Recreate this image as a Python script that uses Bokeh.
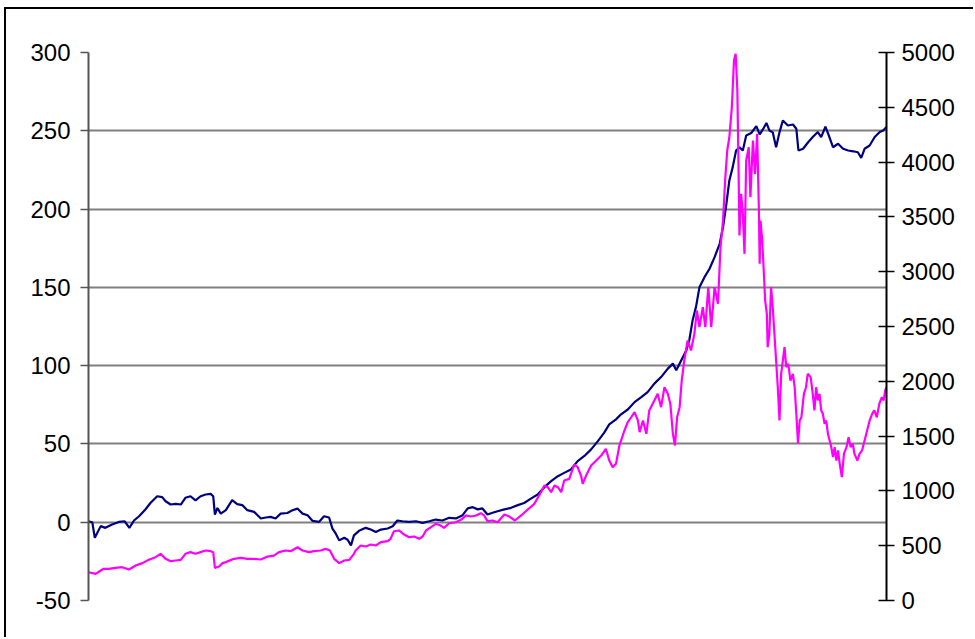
from bokeh.plotting import figure
from bokeh.models import Range1d, LinearAxis, FixedTicker
from bokeh.embed import file_html
from bokeh.resources import INLINE

# ---------------- data ----------------
left_ticks = [-50, 0, 50, 100, 150, 200, 250, 300]
right_ticks = [0, 500, 1000, 1500, 2000, 2500, 3000, 3500, 4000, 4500, 5000]

# navy series (left axis), x in decimal years
navy_x = [1984.83, 1984.92, 1984.98, 1985.04, 1985.12, 1985.23, 1985.39, 1985.55, 1985.69, 1985.80,
          1985.91, 1986.03, 1986.18, 1986.30, 1986.46, 1986.58, 1986.66, 1986.78, 1986.90, 1987.02,
          1987.13, 1987.25, 1987.37, 1987.49, 1987.61, 1987.73, 1987.79, 1987.83, 1987.89, 1987.97,
          1988.09, 1988.24, 1988.36, 1988.48, 1988.60, 1988.76, 1988.92, 1989.04, 1989.15, 1989.27,
          1989.39, 1989.55, 1989.67, 1989.79, 1989.91, 1990.03, 1990.15, 1990.30, 1990.42, 1990.54,
          1990.62, 1990.70, 1990.78, 1990.90, 1990.98, 1991.06, 1991.13, 1991.25, 1991.41, 1991.53,
          1991.65, 1991.77, 1991.93, 1992.05, 1992.16, 1992.28, 1992.44, 1992.60, 1992.76, 1992.92,
          1993.07, 1993.23, 1993.39, 1993.55, 1993.71, 1993.83, 1993.95, 1994.07, 1994.18, 1994.30,
          1994.42, 1994.54, 1994.70, 1994.86, 1995.02, 1995.17, 1995.33, 1995.49, 1995.65, 1995.81,
          1995.97, 1996.12, 1996.28, 1996.44, 1996.60, 1996.76, 1996.92, 1997.07, 1997.19, 1997.35,
          1997.47, 1997.63, 1997.79, 1997.95, 1998.10, 1998.26, 1998.42, 1998.58, 1998.70, 1998.78,
          1998.90, 1999.02, 1999.09, 1999.17, 1999.25, 1999.33, 1999.45, 1999.57, 1999.69, 1999.81,
          1999.89, 1999.97, 2000.04, 2000.12, 2000.20, 2000.28, 2000.36, 2000.44, 2000.56, 2000.68,
          2000.76, 2000.84, 2000.92, 2000.99, 2001.07, 2001.15, 2001.23, 2001.31, 2001.43, 2001.55,
          2001.63, 2001.68, 2001.79, 2001.91, 2002.02, 2002.14, 2002.22, 2002.32, 2002.40, 2002.50,
          2002.62, 2002.74, 2002.86, 2002.98, 2003.09, 2003.17, 2003.25, 2003.37, 2003.49, 2003.61,
          2003.69, 2003.77]
navy_y = [0.5, 0, -10, -6.8, -2.5, -3.6, -1.5, 0.2, 0.6, -3.6,
          1.1, 3.8, 8.1, 12.3, 16.6, 16, 13.4, 11.3, 11.7, 11.3,
          15.6, 16.6, 13.9, 16.6, 17.7, 18.1, 16.6, 4.9, 9.1, 5.5,
          7.7, 14.1, 11.6, 10.9, 7.7, 6.6, 2.4, 3, 3.4, 2.4,
          5.5, 5.9, 7.6, 8.7, 5.5, 4.4, 0.8, 0.2, 3.8, 3,
          -4.1, -7.3, -11.6, -9.9, -11.2, -14.8, -8.4, -5.5, -3.6, -4.7,
          -6.2, -4.7, -4, -2.6, 1.1, 0.6, 0.2, 0.6, -0.4, 0.6,
          1.7, 1.1, 2.8, 2.4, 4.5, 8.8, 9.6, 8.2, 8.8, 4.9,
          6, 7, 8.2, 9.2, 10.9, 12.3, 15.1, 17.7, 22.4, 26.2,
          29.4, 31.5, 33.7, 39, 42.3, 46.5, 51.8, 57.2, 62.5, 65.7,
          68.9, 72, 76.7, 79.9, 83.1, 88.5, 92.7, 98.1, 101.3, 97.1,
          103.5, 109.9, 116.4, 129.2, 137.7, 150, 156.5, 161.9, 169.3, 177.8,
          188.4, 203.4, 218.3, 226.8, 237.4, 239.5, 237.4, 247, 248.6, 253,
          247.7, 251, 255, 250.2, 249, 239.5, 249, 256.6, 253.4, 254,
          251.3, 237.4, 238.5, 242.7, 246, 249.2, 246, 252.7, 247, 239.5,
          241.7, 238.5, 237.4, 236.9, 236.3, 232.7, 238.5, 240.6, 246, 249.2,
          250.2, 252.4]

# magenta series (right axis)
mag_x = [1984.83, 1985.00, 1985.12, 1985.19, 1985.31, 1985.47, 1985.63, 1985.79, 1985.95, 1986.11,
         1986.26, 1986.42, 1986.54, 1986.66, 1986.78, 1986.90, 1987.02, 1987.13, 1987.25, 1987.37,
         1987.49, 1987.61, 1987.73, 1987.79, 1987.83, 1987.93, 1988.01, 1988.09, 1988.28, 1988.44,
         1988.60, 1988.76, 1988.92, 1989.08, 1989.23, 1989.35, 1989.51, 1989.63, 1989.79, 1989.91,
         1990.06, 1990.18, 1990.34, 1990.46, 1990.56, 1990.66, 1990.78, 1990.90, 1991.02, 1991.13,
         1991.17, 1991.29, 1991.41, 1991.53, 1991.65, 1991.77, 1991.93, 1992.00, 1992.08, 1992.20,
         1992.32, 1992.44, 1992.56, 1992.68, 1992.76, 1992.84, 1992.96, 1993.07, 1993.19, 1993.27,
         1993.39, 1993.55, 1993.67, 1993.79, 1993.91, 1994.03, 1994.14, 1994.22, 1994.30, 1994.42,
         1994.54, 1994.70, 1994.82, 1994.95, 1995.10, 1995.25, 1995.41, 1995.57, 1995.65, 1995.73,
         1995.81, 1995.89, 1995.97, 1996.05, 1996.12, 1996.24, 1996.36, 1996.44, 1996.52, 1996.56,
         1996.64, 1996.76, 1996.88, 1997.00, 1997.11, 1997.19, 1997.27, 1997.35, 1997.43, 1997.55,
         1997.63, 1997.71, 1997.79, 1997.87, 1997.91, 1997.99, 1998.07, 1998.14, 1998.26, 1998.34,
         1998.42, 1998.50, 1998.58, 1998.64, 1998.70, 1998.75, 1998.80, 1998.86, 1998.91, 1998.97,
         1999.05, 1999.13, 1999.21, 1999.27, 1999.33, 1999.41, 1999.47, 1999.54, 1999.61, 1999.69,
         1999.77, 1999.83, 1999.89, 1999.94, 1999.99, 2000.04, 2000.10, 2000.15, 2000.19, 2000.23,
         2000.26, 2000.28, 2000.32, 2000.36, 2000.40, 2000.44, 2000.50, 2000.54, 2000.60, 2000.65,
         2000.70, 2000.74, 2000.76, 2000.78, 2000.82, 2000.86, 2000.89, 2000.93, 2000.95, 2000.99,
         2001.03, 2001.07, 2001.11, 2001.15, 2001.19, 2001.23, 2001.27, 2001.31, 2001.35, 2001.39,
         2001.44, 2001.49, 2001.55, 2001.59, 2001.63, 2001.67, 2001.71, 2001.75, 2001.81, 2001.86,
         2001.90, 2001.97, 2002.02, 2002.06, 2002.10, 2002.14, 2002.18, 2002.22, 2002.26, 2002.30,
         2002.34, 2002.38, 2002.42, 2002.46, 2002.50, 2002.54, 2002.58, 2002.62, 2002.66, 2002.71,
         2002.76, 2002.82, 2002.87, 2002.92, 2002.97, 2003.01, 2003.08, 2003.13, 2003.19, 2003.25,
         2003.31, 2003.37, 2003.43, 2003.48, 2003.54, 2003.60, 2003.66, 2003.70, 2003.74, 2003.77]
mag_y = [258, 243, 274, 289, 289, 298, 304, 283, 319, 341,
         371, 395, 426, 380, 359, 365, 371, 426, 441, 426,
         441, 456, 450, 441, 298, 310, 341, 350, 380, 389,
         380, 380, 374, 401, 410, 441, 456, 450, 486, 456,
         441, 450, 456, 471, 456, 380, 341, 365, 371, 426,
         456, 502, 493, 511, 502, 532, 541, 563, 632, 639,
         602, 578, 584, 563, 584, 639, 669, 700, 684, 663,
         705, 714, 736, 776, 766, 776, 797, 776, 724, 730,
         714, 785, 766, 730, 776, 828, 882, 988, 1049, 1034,
         988, 1049, 1034, 988, 1095, 1110, 1241, 1216, 1140, 1065,
         1140, 1232, 1277, 1323, 1384, 1277, 1216, 1247, 1414, 1551,
         1627, 1672, 1718, 1642, 1536, 1642, 1521, 1734, 1825, 1886,
         1764, 1946, 1886, 1795, 1521, 1414, 1672, 1764, 2007, 2190,
         2372, 2281, 2433, 2646, 2494, 2676, 2494, 2859, 2494, 2859,
         2707, 3224, 3467, 3832, 4106, 4227, 4501, 4927, 4988, 4653,
         3893, 3330, 3711, 3528, 3163, 4015, 4136, 3680, 4197, 3893,
         4258, 3589, 3072, 3467, 3285, 2981, 2737, 2616, 2311, 2433,
         2859, 2676, 2433, 2190, 1946, 1642, 2068, 2190, 2311, 2129,
         2159, 2007, 2068, 1946, 1703, 1430, 1642, 1672, 1886, 1946,
         2068, 2038, 1886, 1734, 1946, 1825, 1886, 1734, 1703, 1612,
         1642, 1521, 1460, 1399, 1308, 1399, 1277, 1369, 1247, 1125,
         1338, 1399, 1490, 1399, 1430, 1338, 1277, 1338, 1369, 1460,
         1551, 1642, 1703, 1734, 1672, 1795, 1855, 1825, 1916, 1946]

# ---------------- figure ----------------
W, H = 969, 630
p = figure(width=W, height=H, output_backend="svg", toolbar_location=None,
           x_range=Range1d(min(navy_x), max(navy_x)), y_range=Range1d(-50, 300),
           x_axis_location=None, y_axis_location="left",
           min_border_left=82, min_border_right=89, min_border_top=43, min_border_bottom=39)
p.extra_y_ranges = {"r": Range1d(0, 5000)}
p.outline_line_color = None
p.background_fill_color = "white"
p.border_fill_color = "white"
p.styles = {"border-top": "2px solid black", "border-left": "2px solid black",
            "margin-left": "4px", "margin-top": "7px"}

FONT = "Liberation Sans"

ya = p.yaxis[0]
ya.ticker = FixedTicker(ticks=left_ticks)
ya.major_label_overrides = {t: str(t) for t in left_ticks}
ya.axis_line_color = "#555555"
ya.axis_line_width = 2
ya.major_tick_line_color = "#555555"
ya.major_tick_line_width = 1.5
ya.major_tick_out = 8
ya.major_tick_in = 0
ya.minor_tick_line_color = None
ya.major_label_text_font = FONT
ya.major_label_text_font_size = "24px"
ya.major_label_text_color = "black"
ya.major_label_standoff = 10

ra = LinearAxis(y_range_name="r", ticker=FixedTicker(ticks=right_ticks))
ra.axis_line_color = "black"
ra.axis_line_width = 2
ra.major_tick_line_color = "black"
ra.major_tick_line_width = 1.5
ra.major_tick_out = 8
ra.major_tick_in = 8
ra.minor_tick_line_color = None
ra.major_label_text_font = FONT
ra.major_label_text_font_size = "24px"
ra.major_label_text_color = "black"
ra.major_label_standoff = 7
p.add_layout(ra, "right")

p.xgrid.visible = False
p.ygrid.ticker = FixedTicker(ticks=left_ticks)
p.ygrid.grid_line_color = "#808080"
p.ygrid.grid_line_width = 2

p.line(navy_x, navy_y, line_color="#000080", line_width=2.2)
p.line(mag_x, mag_y, line_color="#FF00FF", line_width=2.2, y_range_name="r")

open("out.html", "w").write(file_html(p, INLINE))
